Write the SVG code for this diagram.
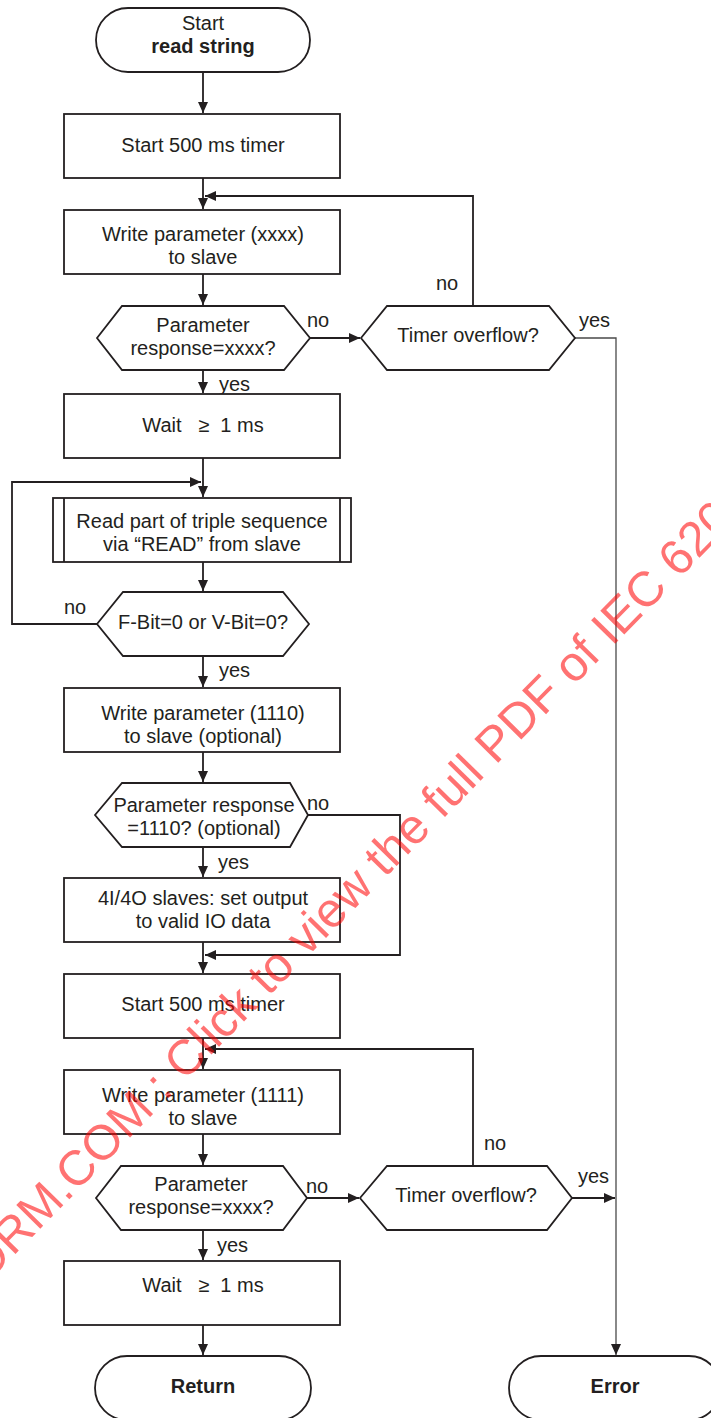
<svg xmlns="http://www.w3.org/2000/svg" width="711" height="1418" viewBox="0 0 711 1418">
<style>
.s{fill:#fff;stroke:#231f20;stroke-width:1.8}
.c{fill:none;stroke:#231f20;stroke-width:1.8}
.t{fill:none;stroke:#4a4a4a;stroke-width:1.3}
text{font-family:"Liberation Sans",Arial,sans-serif;font-size:20px;fill:#231f20;text-anchor:middle}
.l{text-anchor:start}
.b{font-weight:bold}
.wm{font-size:49px;fill:#ff0000;opacity:0.55;text-anchor:start}
</style>
<defs>
<marker id="a" markerUnits="userSpaceOnUse" markerWidth="12" markerHeight="10" refX="11" refY="5" orient="auto">
<path d="M0,0 L11,5 L0,10 Z" fill="#231f20"/>
</marker>
</defs>
<rect width="711" height="1418" fill="#fff"/>
<g id="connectors">
<path class="c" d="M203,72 V113" marker-end="url(#a)"/>
<path class="c" d="M203,178 V209" marker-end="url(#a)"/>
<path class="c" d="M473,306 V196 H205" marker-end="url(#a)"/>
<path class="c" d="M203,274 V305" marker-end="url(#a)"/>
<path class="c" d="M310,338 H360" marker-end="url(#a)"/>
<path class="c" d="M203,370 V393" marker-end="url(#a)"/>
<path class="t" d="M575,338 H616 V1355" marker-end="url(#a)"/>
<path class="c" d="M203,458 V497" marker-end="url(#a)"/>
<path class="c" d="M97,624 H12 V482 H201" marker-end="url(#a)"/>
<path class="c" d="M203,562 V591" marker-end="url(#a)"/>
<path class="c" d="M203,656 V687" marker-end="url(#a)"/>
<path class="c" d="M203,752 V782" marker-end="url(#a)"/>
<path class="c" d="M308,815 H400 V955 H205" marker-end="url(#a)"/>
<path class="c" d="M203,847 V877" marker-end="url(#a)"/>
<path class="c" d="M203,942 V973" marker-end="url(#a)"/>
<path class="c" d="M203,1038 V1069" marker-end="url(#a)"/>
<path class="c" d="M473,1166 V1049 H205" marker-end="url(#a)"/>
<path class="c" d="M203,1134 V1165" marker-end="url(#a)"/>
<path class="c" d="M307,1198 H359" marker-end="url(#a)"/>
<path class="c" d="M572,1198 H615" marker-end="url(#a)"/>
<path class="c" d="M203,1230 V1260" marker-end="url(#a)"/>
<path class="c" d="M203,1325 V1355" marker-end="url(#a)"/>
<text class="l" x="436" y="290">no</text>
<text class="l" x="307" y="327">no</text>
<text class="l" x="579" y="327">yes</text>
<text class="l" x="219" y="391">yes</text>
<text class="l" x="64" y="614">no</text>
<text class="l" x="219" y="677">yes</text>
<text class="l" x="307" y="810">no</text>
<text class="l" x="218" y="869">yes</text>
<text class="l" x="484" y="1150">no</text>
<text class="l" x="578" y="1183">yes</text>
<text class="l" x="306" y="1193">no</text>
<text class="l" x="217" y="1252">yes</text>
</g>
<g id="start">
<path class="s" d="M128,8 H278 A32,32 0 0 1 278,72 H128 A32,32 0 0 1 128,8 Z"/>
<text x="203" y="30">Start</text>
<text class="b" x="203" y="53">read string</text>
</g>
<g id="timer1">
<rect class="s" x="64" y="114" width="276" height="64"/>
<text x="203" y="152">Start 500 ms timer</text>
</g>
<g id="write1">
<rect class="s" x="64" y="210" width="276" height="64"/>
<text x="203" y="241">Write parameter (xxxx)</text>
<text x="203" y="264">to slave</text>
</g>
<g id="resp1">
<polygon class="s" points="97,338 122,306 284,306 310,338 284,370 122,370"/>
<text x="203" y="332">Parameter</text>
<text x="203" y="355">response=xxxx?</text>
</g>
<g id="overflow1">
<polygon class="s" points="361,338 387,306 549,306 575,338 549,370 387,370"/>
<text x="468" y="342">Timer overflow?</text>
</g>
<g id="wait1">
<rect class="s" x="64" y="394" width="276" height="64"/>
<text x="203" y="432" xml:space="preserve">Wait   ≥  1 ms</text>
</g>
<g id="readpart">
<rect class="s" x="53" y="498" width="298" height="64"/>
<line class="c" x1="64" y1="498" x2="64" y2="562"/>
<line class="c" x1="340" y1="498" x2="340" y2="562"/>
<text x="202" y="528">Read part of triple sequence</text>
<text x="202" y="551">via “READ” from slave</text>
</g>
<g id="fbit">
<polygon class="s" points="97,624 123,592 283,592 309,624 283,656 123,656"/>
<text x="203" y="629">F-Bit=0 or V-Bit=0?</text>
</g>
<g id="write1110">
<rect class="s" x="64" y="688" width="276" height="64"/>
<text x="203" y="720">Write parameter (1110)</text>
<text x="203" y="743">to slave (optional)</text>
</g>
<g id="resp1110">
<polygon class="s" points="95,815 122,783 290,783 308,815 290,847 122,847"/>
<text x="204" y="812">Parameter response</text>
<text x="204" y="835">=1110? (optional)</text>
</g>
<g id="setoutput">
<rect class="s" x="64" y="878" width="276" height="64"/>
<text x="203" y="905">4I/4O slaves: set output</text>
<text x="203" y="928">to valid IO data</text>
</g>
<g id="timer2">
<rect class="s" x="64" y="974" width="276" height="64"/>
<text x="203" y="1011">Start 500 ms timer</text>
</g>
<g id="write1111">
<rect class="s" x="64" y="1070" width="276" height="64"/>
<text x="203" y="1102">Write parameter (1111)</text>
<text x="203" y="1125">to slave</text>
</g>
<g id="resp2">
<polygon class="s" points="96,1198 121,1166 283,1166 307,1198 283,1230 121,1230"/>
<text x="201" y="1191">Parameter</text>
<text x="201" y="1214">response=xxxx?</text>
</g>
<g id="overflow2">
<polygon class="s" points="360,1198 387,1166 547,1166 572,1198 547,1230 387,1230"/>
<text x="466" y="1202">Timer overflow?</text>
</g>
<g id="wait2">
<rect class="s" x="64" y="1261" width="276" height="64"/>
<text x="203" y="1292" xml:space="preserve">Wait   ≥  1 ms</text>
</g>
<g id="return">
<path class="s" d="M127,1356 H279 A32,32 0 0 1 279,1420 H127 A32,32 0 0 1 127,1356 Z"/>
<text class="b" x="203" y="1393">Return</text>
</g>
<g id="error">
<path class="s" d="M541,1356 H689 A32,32 0 0 1 689,1420 H541 A32,32 0 0 1 541,1356 Z"/>
<text class="b" x="615" y="1393">Error</text>
</g>
<text class="wm" transform="translate(-14,1284) rotate(-45.5)" x="0" y="0">ORM.COM : Click to view the full PDF of IEC 620</text>
</svg>
